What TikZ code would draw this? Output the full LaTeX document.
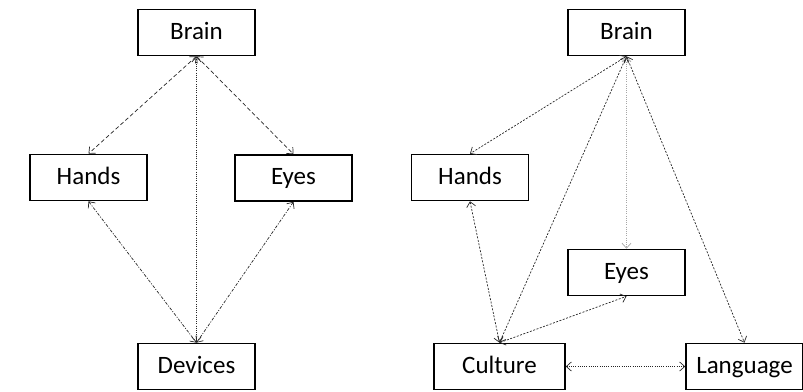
\documentclass[tikz,border=0pt]{standalone}
\usepackage{fontspec}
\setmainfont{Carlito}
\usepackage{tikz}
\usetikzlibrary{positioning, arrows.meta}
\tikzset{dbox/.style={draw, line width=1.6pt, minimum width=117pt, minimum height=46pt, inner sep=0pt, text height=13pt, text depth=0pt, font=\fontsize{25}{28}\selectfont}}
\tikzset{darr/.style={draw=black!85, line width=0.7pt, <->, >={Straight Barb[length=5pt,width=9pt]}}}
\tikzset{dash1/.style={darr, dash pattern=on 4pt off 2.5pt}}
\tikzset{dash2/.style={darr, dash pattern=on 2pt off 1.5pt}}
\tikzset{dash3/.style={darr, dash pattern=on 3pt off 1.5pt on 1pt off 1.5pt}}
\tikzset{dot1/.style={darr, dash pattern=on 1pt off 1.2pt}}

\begin{document}
\begin{tikzpicture}[x=1pt, y=-1pt]
        \useasboundingbox (0,0) rectangle (803,391);
        % left: devices
		\node[dbox] (LBrain) at (196.5,32.5) {Brain};
        \node[dbox] (LHands) at (88.5,177.5) {Hands};
        \node[dbox] (LEyes) at (293.5,178) {Eyes};
        \node[dbox] (LDevices) at (196.5,366.5) {Devices};
        \draw[dash1] (LBrain.south) -- (LHands.north);
        \draw[dash1] (LBrain.south) -- (LEyes.north);
        \draw[dot1] (LBrain.south) -- (LDevices.north);
        \draw[dash3] (LHands.south) -- (LDevices.north);
        \draw[dash3] (LEyes.south) -- (LDevices.north);
        % right: culture and language
		\node[dbox] (RBrain) at (626.5,32.5) {Brain};
        \node[dbox] (RHands) at (470,177.5) {Hands};
        \node[dbox] (REyes) at (626.5,272.5) {Eyes};
        \node[dbox, minimum width=131pt] (RCulture) at (499.5,366.5) {Culture};
        \node[dbox] (RLanguage) at (744.5,366.5) {Language};
        \draw[dash2] (RBrain.south) -- (RHands.north);
        \draw[dash2] (RBrain.south) -- (RCulture.north);
        \draw[dot1, draw=black!35] (RBrain.south) -- (REyes.north);
        \draw[dash2] (RBrain.south) -- (RLanguage.north);
        \draw[dash2] (RHands.south) -- (RCulture.north);
        \draw[dash2] (RCulture.north) -- (REyes.south);
        \draw[dot1] (RCulture.east) -- (RLanguage.west);
	\end{tikzpicture}
\end{document}
